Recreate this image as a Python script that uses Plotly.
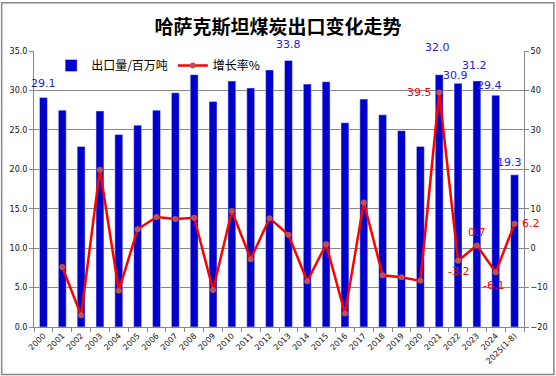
import plotly.graph_objects as go

years = ["2000", "2001", "2002", "2003", "2004", "2005", "2006", "2007", "2008", "2009",
         "2010", "2011", "2012", "2013", "2014", "2015", "2016", "2017", "2018", "2019",
         "2020", "2021", "2022", "2023", "2024", "2025(1-8)"]
exports = [29.1, 27.5, 22.9, 27.4, 24.4, 25.6, 27.5, 29.7, 32.0, 28.6,
           31.2, 30.3, 32.6, 33.8, 30.8, 31.1, 25.9, 28.9, 26.9, 24.9,
           22.9, 32.0, 30.9, 31.2, 29.4, 19.3]
growth = [None, -4.8, -17.0, 19.9, -10.8, 4.8, 7.9, 7.4, 7.7, -10.6,
          9.4, -2.8, 7.6, 3.4, -8.4, 1.0, -16.6, 11.6, -6.9, -7.4,
          -8.3, 39.5, -3.2, 0.7, -6.1, 6.2]

title_text = "哈萨克斯坦煤炭出口变化走势"
bar_name = "出口量/百万吨"
line_name = "增长率%"

# which values get labels, with label offsets (style)
bar_label_years = {"2000": (0, 14), "2013": (0, 16), "2021": (-2, 27), "2022": (-3, 8),
                   "2023": (-2, 15), "2024": (-6, 10), "2025(1-8)": (-5, 12)}
line_label_years = {"2021": ("right", "middle", -5, 0), "2022": ("center", "top", 0, -2),
                    "2023": ("center", "bottom", 0, 4), "2024": ("center", "top", -2, -5),
                    "2025(1-8)": ("left", "middle", 5, 0)}

BLUE = "#0000CC"
RED = "#FF0000"
GRID = "#868686"
TICKFONT = dict(family="DejaVu Sans", size=8, color="#111111")

fig = go.Figure()
fig.add_trace(go.Bar(x=years, y=exports, name=bar_name, marker_color=BLUE,
                     width=0.42, yaxis="y"))
fig.add_trace(go.Scatter(x=years, y=growth, name=line_name, mode="lines+markers",
                         line=dict(color=RED, width=2.5),
                         marker=dict(color="#C0504D", size=6),
                         connectgaps=False, yaxis="y2"))

annotations = []
for i, (yr, val) in enumerate(zip(years, exports)):
    if yr in bar_label_years:
        dx, dy = bar_label_years[yr]
        annotations.append(dict(x=i, y=val, xref="x", yref="y", text=f"{val:.1f}",
                                showarrow=False, xshift=dx, yshift=dy,
                                font=dict(family="DejaVu Sans", size=11, color="#2222DD"),
                                xanchor="center", yanchor="middle"))
for i, (yr, val) in enumerate(zip(years, growth)):
    if yr in line_label_years:
        xa, ya, dx, dy = line_label_years[yr]
        annotations.append(dict(x=i, y=val, xref="x", yref="y2", text=f"{val:.1f}",
                                showarrow=False, xshift=dx, yshift=dy,
                                font=dict(family="DejaVu Sans", size=11, color=RED),
                                xanchor=xa, yanchor=ya))

fig.update_layout(
    width=556, height=376,
    margin=dict(l=34, r=32, t=51, b=49),
    paper_bgcolor="white", plot_bgcolor="white",
    title=dict(text=title_text, x=0.5, xanchor="center", y=0.928, yanchor="middle",
               font=dict(family="Noto Sans CJK SC", size=19, color="black", weight="bold")),
    showlegend=True,
    legend=dict(orientation="h", x=0.035, y=1.0, xanchor="left", yanchor="top",
                bgcolor="rgba(0,0,0,0)",
                font=dict(family="Noto Sans CJK SC", size=12, color="black"),
                itemwidth=30),
    bargap=0.58,
    xaxis=dict(type="category", range=[-0.5, 25.5], tickangle=-45, tickfont=TICKFONT,
               showgrid=False, showline=True, linecolor=GRID, linewidth=1, ticks="outside",
               tickson="boundaries", ticklen=4, tickcolor=GRID, zeroline=False,
               automargin=False),
    yaxis=dict(range=[0, 35], dtick=5, tickformat=".1f", showgrid=True, gridcolor=GRID,
               gridwidth=1, showline=True, linecolor=GRID, linewidth=1, ticks="outside",
               ticklen=4, tickcolor=GRID, tickfont=TICKFONT, zeroline=False,
               automargin=False),
    yaxis2=dict(range=[-20, 50], dtick=10, overlaying="y", side="right", showgrid=False,
                showline=True, linecolor=GRID, linewidth=1, ticks="outside", ticklen=4,
                tickcolor=GRID, tickfont=TICKFONT, zeroline=False, automargin=False),
    annotations=annotations,
    shapes=[dict(type="rect", xref="paper", yref="paper",
                 x0=-0.066, x1=1.061, y0=-0.172, y1=1.175,
                 line=dict(color=GRID, width=1.5), fillcolor="rgba(0,0,0,0)", layer="below")],
)

fig.write_html("out.html", config={"displayModeBar": False},
               post_script="document.body.style.margin='0';document.body.style.overflow='hidden';")
